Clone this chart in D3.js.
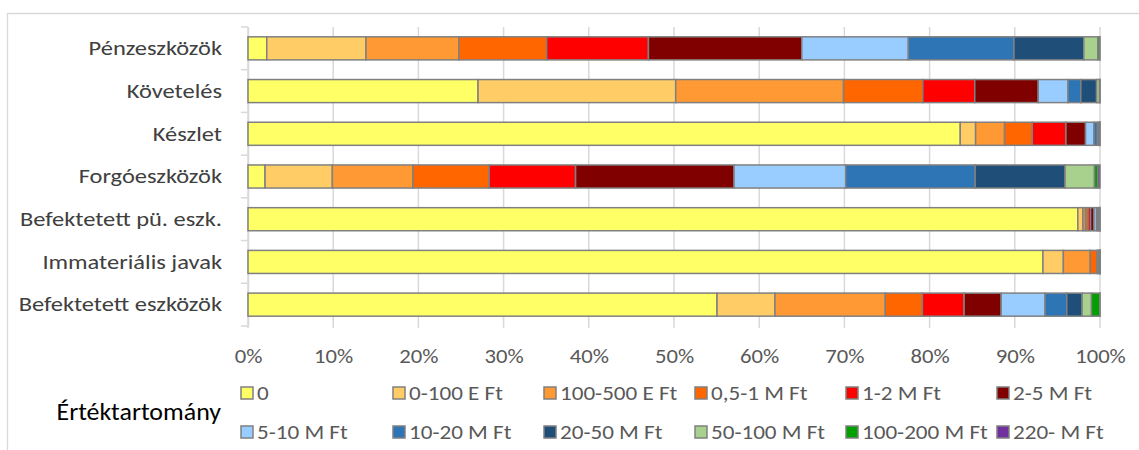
<!DOCTYPE html>
<html>
<head>
<meta charset="utf-8">
<script src="https://cdn.jsdelivr.net/npm/d3@7/dist/d3.min.js"></script>
<style>
  html, body { margin: 0; padding: 0; background: #fff; }
  svg { display: block; }
  text { font-family: Carlito, Lato, "Open Sans", sans-serif; }
</style>
</head>
<body>
<svg id="chart" width="1139" height="450"></svg>
<script>
const categories = ["Pénzeszközök", "Követelés", "Készlet", "Forgóeszközök",
  "Befektetett pü. eszk.", "Immateriális javak", "Befektetett eszközök"];

const seriesNames = ["0", "0-100 E Ft", "100-500 E Ft", "0,5-1 M Ft", "1-2 M Ft", "2-5 M Ft",
  "5-10 M Ft", "10-20 M Ft", "20-50 M Ft", "50-100 M Ft", "100-200 M Ft", "220- M Ft"];

const seriesColors = ["#FFFF66", "#FFCC66", "#FF9933", "#FF6600", "#FF0000", "#800000",
  "#99CCFF", "#2E75B6", "#1F4E79", "#A9D18E", "#00A000", "#7030A0"];

// values (%) per series, in category order
const v0        = [2.2, 27.0, 83.6, 2.0, 97.4, 93.3, 55.05];
const v0_100E   = [11.65, 23.2, 1.8, 7.9, 0.6, 2.4, 6.8];
const v100_500E = [10.9, 19.7, 3.4, 9.45, 0.3, 3.15, 12.95];
const v05_1M    = [10.3, 9.3, 3.25, 8.95, 0.3, 0.8, 4.35];
const v1_2M     = [11.95, 6.1, 3.95, 10.15, 0.3, 0.15, 4.9];
const v2_5M     = [18.0, 7.45, 2.3, 18.6, 0.4, 0.1, 4.35];
const v5_10M    = [12.5, 3.5, 1.0, 13.1, 0.3, 0.04, 5.15];
const v10_20M   = [12.4, 1.5, 0.4, 15.2, 0.2, 0.02, 2.55];
const v20_50M   = [8.2, 1.85, 0.2, 10.55, 0.1, 0.02, 1.8];
const v50_100M  = [1.65, 0.35, 0.05, 3.45, 0.05, 0.01, 1.1];
const v100_200M = [0.2, 0.03, 0.03, 0.4, 0.03, 0.005, 0.98];
const v220M     = [0.05, 0.02, 0.02, 0.25, 0.02, 0.005, 0.02];

const xTicks = [0, 0.1, 0.2, 0.3, 0.4, 0.5, 0.6, 0.7, 0.8, 0.9, 1.0];
const legendTitle = "Értéktartomány";

const seriesValues = [v0, v0_100E, v100_500E, v05_1M, v1_2M, v2_5M, v5_10M,
  v10_20M, v20_50M, v50_100M, v100_200M, v220M];

// build table
const keys = seriesNames;
const table = categories.map((c, i) => {
  const row = { category: c };
  let total = 0;
  seriesValues.forEach(arr => total += arr[i]);
  keys.forEach((k, j) => row[k] = seriesValues[j][i] / total);
  return row;
});

const FONT = "Carlito, Lato, 'Open Sans', sans-serif";
const svg = d3.select("#chart");

// chart border
svg.append("path")
  .attr("d", "M7.5,460 V13.5 H1150")
  .attr("fill", "none").attr("stroke", "#D9D9D9").attr("stroke-width", 1.3);

const x = d3.scaleLinear().domain([0, 1]).range([248, 1100]);
const y = d3.scaleBand().domain(categories).range([27, 326])
  .paddingInner(0.46).paddingOuter(0.23);

// gridlines
svg.append("g").selectAll("line").data(xTicks).join("line")
  .attr("x1", d => x(d)).attr("x2", d => x(d))
  .attr("y1", 27).attr("y2", 328)
  .attr("stroke", "#D9D9D9").attr("stroke-width", 1.5);

// category axis
const catK = 1.165;
const yAxis = svg.append("g").attr("transform", `translate(${x(0)},0)`)
  .call(d3.axisLeft(y).tickSize(0).tickPadding(26 / catK));
yAxis.select(".domain").attr("stroke", "#D9D9D9").attr("stroke-width", 1.5);
yAxis.selectAll("text").attr("font-size", 21).attr("fill", "#404040")
  .attr("font-family", FONT).attr("transform", `scale(${catK},1)`);
// tick marks at band boundaries
const bounds = categories.map(c => y(c) - y.step() * y.paddingInner() / 2);
bounds.push(326);
bounds[0] = 27;
svg.append("g").selectAll("line").data(bounds).join("line")
  .attr("x1", x(0) - 7).attr("x2", x(0))
  .attr("y1", d => d).attr("y2", d => d)
  .attr("stroke", "#D9D9D9").attr("stroke-width", 1.5);

// value axis
const xAxis = svg.append("g").attr("transform", "translate(0,326)")
  .call(d3.axisBottom(x).tickValues(xTicks).tickFormat(d3.format(".0%")).tickSize(0).tickPadding(22));
xAxis.select(".domain").remove();
xAxis.selectAll("text").attr("font-size", 21).attr("fill", "#595959")
  .attr("font-family", FONT).attr("transform", "scale(1.08,1)");

// bars
const stack = d3.stack().keys(keys)(table);
svg.append("g").selectAll("g").data(stack).join("g")
  .attr("fill", (d, i) => seriesColors[i])
  .selectAll("rect").data(d => d).join("rect")
  .attr("x", d => x(d[0]))
  .attr("width", d => x(d[1]) - x(d[0]))
  .attr("y", d => y(d.data.category))
  .attr("height", y.bandwidth())
  .attr("stroke", "#808080").attr("stroke-width", 1.5);

// legend
const legX = [241, 393, 544, 695, 846, 997];
const legY = [393, 432];
const leg = svg.append("g");
seriesNames.forEach((name, i) => {
  const col = i % 6, row = Math.floor(i / 6);
  const g = leg.append("g").attr("transform", `translate(${legX[col]},${legY[row]})`);
  g.append("rect").attr("x", 0).attr("y", -6).attr("width", 12).attr("height", 12)
    .attr("fill", seriesColors[i]).attr("stroke", "#808080").attr("stroke-width", 1.5);
  g.append("text").attr("x", 0).attr("y", 0).attr("dy", "0.35em")
    .attr("transform", "translate(16,0) scale(1.1,1)")
    .attr("font-size", 21).attr("fill", "#595959").text(name);
});
svg.append("text").attr("x", 0).attr("y", 0).attr("dy", "0.35em")
  .attr("transform", "translate(221,412) scale(1.08,1)")
  .attr("text-anchor", "end").attr("font-size", 24).attr("fill", "#000")
  .text(legendTitle);
</script>
</body>
</html>
